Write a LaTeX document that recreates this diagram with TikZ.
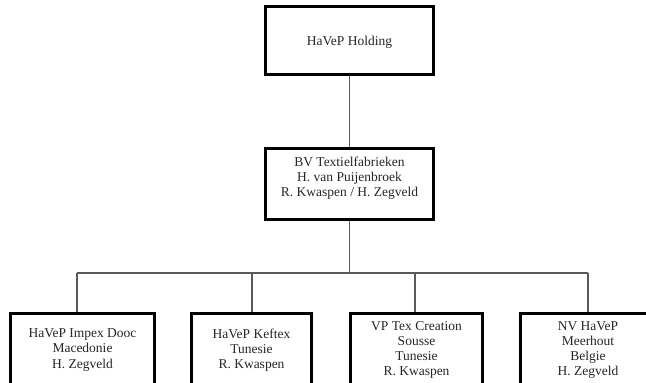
\documentclass[tikz,border=0pt]{standalone}
\usepackage{fontspec}
\setmainfont{Liberation Serif}
\begin{document}
\begin{tikzpicture}[x=1pt,y=-1pt,
  orgbox/.style={draw=black, line width=3pt, fill=white, rectangle, inner sep=0pt},
  orgtext/.style={align=center, text=black!85, font=\fontsize{13.5}{15.2}\selectfont, inner sep=0pt},
  conn/.style={draw=black!65, line width=1.1pt}]
\useasboundingbox (0,0) rectangle (646,383);
\clip (0,0) rectangle (646,383);

\node[orgbox, minimum width=168pt, minimum height=68pt] (top) at (349.5,40.5) {};
\node[orgtext] (toptxt) at (349.5,42) {HaVeP Holding};

\node[orgbox, minimum width=168pt, minimum height=71pt] (bv) at (349.5,184) {};
\node[orgtext] (bvtxt) at (349.5,178) {BV Textielfabrieken\\H. van Puijenbroek\\R. Kwaspen / H. Zegveld};

\node[orgbox, minimum width=144pt, minimum height=77pt] (l1) at (82.5,352) {};
\node[orgtext] (l1txt) at (82.5,350) {HaVeP Impex Dooc\\Macedonie\\H. Zegveld};

\node[orgbox, minimum width=120pt, minimum height=77pt] (l2) at (251.5,352) {};
\node[orgtext] (l2txt) at (251.5,350) {HaVeP Keftex\\Tunesie\\R. Kwaspen};

\node[orgbox, minimum width=132pt, minimum height=77pt] (l3) at (416.5,352) {};
\node[orgtext] (l3txt) at (416.5,350) {VP Tex Creation\\Sousse\\Tunesie\\R. Kwaspen};

\node[orgbox, minimum width=135pt, minimum height=77pt] (l4) at (588,352) {};
\node[orgtext] (l4txt) at (588,350) {NV HaVeP\\Meerhout\\Belgie\\H. Zegveld};

\coordinate (bus) at (349.5,273);
\coordinate (d1) at (77,273);
\coordinate (d2) at (252,273);
\coordinate (d3) at (415,273);
\coordinate (d4) at (588,273);

\draw[conn] (top.south) -- (bv.north);
\draw[conn] (bv.south) -- (bus);
\draw[conn] (d1) -- (d4);
\draw[conn] (d1) -- (d1 |- l1.north);
\draw[conn] (d2) -- (d2 |- l2.north);
\draw[conn] (d3) -- (d3 |- l3.north);
\draw[conn] (d4) -- (d4 |- l4.north);
\end{tikzpicture}
\end{document}
